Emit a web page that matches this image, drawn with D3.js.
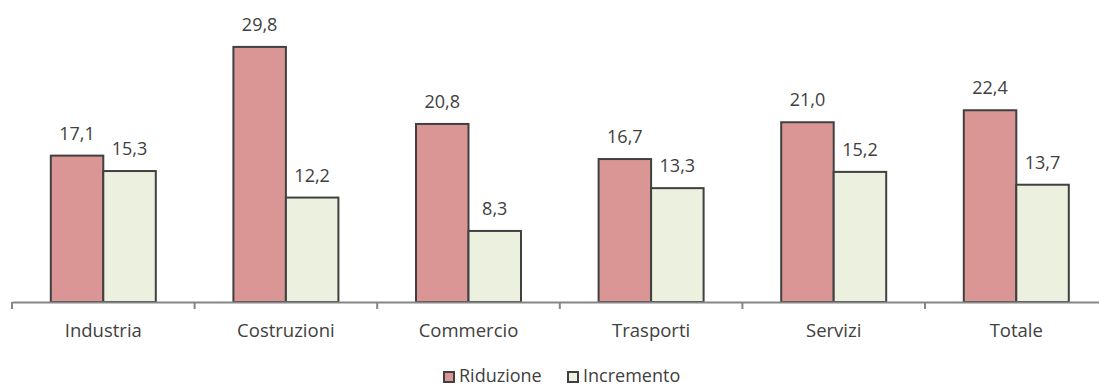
<!DOCTYPE html>
<html>
<head>
<meta charset="utf-8">
<script src="https://cdn.jsdelivr.net/npm/d3@7"></script>
<style>
  html, body { margin: 0; padding: 0; background: #fff; }
  svg { display: block; }
  text { font-family: "Open Sans", "Noto Sans", sans-serif; fill: #404040; }
</style>
</head>
<body>
<svg id="chart" width="1099" height="387"></svg>
<script>
// Settori e valori (percentuali)
const categories = ["Industria", "Costruzioni", "Commercio", "Trasporti", "Servizi", "Totale"];
const riduzione  = [17.1, 29.8, 20.8, 16.7, 21.0, 22.4];
const incremento = [15.3, 12.2, 8.3, 13.3, 15.2, 13.7];
const seriesNames = ["Riduzione", "Incremento"];
const seriesColors = ["#d99694", "#ebf1de"];

const svg = d3.select("#chart");
const fmt = v => d3.format(".1f")(v).replace(".", ",");

// Horizontal layout: each category band is ~182.6px wide, starting at x=12
const bandW = 182.6;
const x0 = d3.scaleBand()
  .domain(categories)
  .range([12, 12 + bandW * categories.length])
  .paddingInner(0).paddingOuter(0);

const barW = 52.5;
const x1 = d3.scaleBand()
  .domain(seriesNames)
  .range([x0.bandwidth() / 2 - barW, x0.bandwidth() / 2 + barW]);

const y = d3.scaleLinear().domain([0, 35]).range([302, 2.4]);

const rows = categories.map((c, i) => ({
  cat: c,
  vals: [
    { s: seriesNames[0], v: riduzione[i], color: seriesColors[0] },
    { s: seriesNames[1], v: incremento[i], color: seriesColors[1] }
  ]
}));

// Bars
const groups = svg.append("g").selectAll("g")
  .data(rows).join("g")
  .attr("transform", d => `translate(${x0(d.cat)},0)`);

groups.selectAll("rect")
  .data(d => d.vals).join("rect")
  .attr("x", d => x1(d.s))
  .attr("y", d => y(d.v))
  .attr("width", x1.bandwidth())
  .attr("height", d => y(0) - y(d.v))
  .attr("fill", d => d.color)
  .attr("stroke", "#404040")
  .attr("stroke-width", 2);

// Value labels
groups.selectAll("text.val")
  .data(d => d.vals).join("text")
  .attr("class", "val")
  .attr("x", d => x1(d.s) + x1.bandwidth() / 2)
  .attr("y", d => y(d.v) - 16)
  .attr("text-anchor", "middle")
  .style("font-size", "18px")
  .text(d => fmt(d.v));

// Category axis
const axis = d3.axisBottom(x0).tickSize(0).tickPadding(0);
const gx = svg.append("g").attr("transform", `translate(0,${y(0)})`).call(axis);
gx.select(".domain").attr("stroke", "#868686").attr("stroke-width", 2);
gx.selectAll(".tick text")
  .attr("y", 35)
  .attr("dy", null)
  .style("font-size", "18.5px")
  .style("font-family", "'Open Sans', 'Noto Sans', sans-serif")
  .attr("fill", "#404040");

// Separator ticks between categories
const boundaries = d3.range(categories.length + 1).map(i => 12 + i * bandW);
gx.selectAll("line.sep")
  .data(boundaries).join("line")
  .attr("class", "sep")
  .attr("x1", d => d).attr("x2", d => d)
  .attr("y1", 0).attr("y2", 7)
  .attr("stroke", "#868686").attr("stroke-width", 2);

// Legend
const legendItems = [
  { name: seriesNames[0], color: seriesColors[0], x: 443 },
  { name: seriesNames[1], color: seriesColors[1], x: 567 }
];
const lg = svg.append("g").selectAll("g")
  .data(legendItems).join("g")
  .attr("transform", d => `translate(${d.x},371)`);
lg.append("rect")
  .attr("x", 1).attr("y", 1)
  .attr("width", 10).attr("height", 10)
  .attr("fill", d => d.color)
  .attr("stroke", "#404040").attr("stroke-width", 2);
lg.append("text")
  .attr("x", 16).attr("y", 11)
  .style("font-size", "18px")
  .text(d => d.name);
</script>
</body>
</html>
